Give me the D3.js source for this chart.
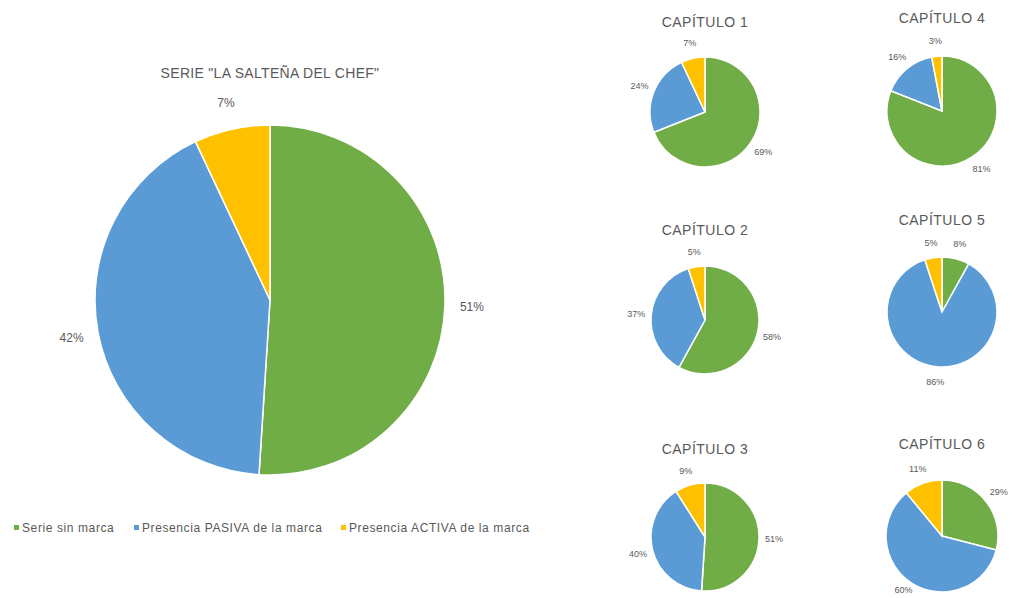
<!DOCTYPE html>
<html><head><meta charset="utf-8">
<script src="https://cdn.jsdelivr.net/npm/d3@7/dist/d3.min.js"></script>
<style>body{margin:0;background:#fff;} text{font-family:"Liberation Sans","DejaVu Sans",sans-serif;fill:#595959;}</style>
</head><body>
<svg id="c" width="1013" height="598"></svg>
<script>
const categories = ["Serie sin marca", "Presencia PASIVA de la marca", "Presencia ACTIVA de la marca"];
const colors = ["#70AD47", "#5B9BD5", "#FFC000"];
const mainTitle = 'SERIE "LA SALTEÑA DEL CHEF"';
const mainValues = [51, 42, 7];
const chapterTitles = ["CAPÍTULO 1", "CAPÍTULO 2", "CAPÍTULO 3", "CAPÍTULO 4", "CAPÍTULO 5", "CAPÍTULO 6"];
const cap1 = [69, 24, 7];
const cap2 = [58, 37, 5];
const cap3 = [51, 40, 9];
const cap4 = [81, 16, 3];
const cap5 = [8, 86, 5];
const cap6 = [29, 60, 11];
const chapterValues = [cap1, cap2, cap3, cap4, cap5, cap6];

const svg = d3.select("#c");
const color = d3.scaleOrdinal().domain(categories).range(colors);
const pie = d3.pie().sort(null).value(d => d.v);

function drawPie(cx, cy, r, values, title, titleY, fs, ls, labelR, labelFs) {
  const g = svg.append("g").attr("transform", `translate(${cx},${cy})`);
  const data = values.map((v, i) => ({ cat: categories[i], v }));
  const arcs = pie(data);
  const arc = d3.arc().innerRadius(0).outerRadius(r);
  g.selectAll("path").data(arcs).join("path")
    .attr("d", arc).attr("fill", d => color(d.data.cat))
    .attr("stroke", "#fff").attr("stroke-width", 1.5);
  const la = d3.arc().innerRadius(labelR).outerRadius(labelR);
  g.selectAll("text.l").data(arcs).join("text").attr("class", "l")
    .attr("transform", d => {
      const [x, y] = la.centroid(d);
      return `translate(${x},${Math.min(y, 590 - cy)})`;
    })
    .attr("text-anchor", "middle").attr("dy", "0.35em")
    .attr("font-size", labelFs).text(d => d.data.v + "%");
  svg.append("text").attr("x", cx).attr("y", titleY).attr("text-anchor", "middle")
    .attr("font-size", fs).attr("letter-spacing", ls).text(title);
}

drawPie(270, 300, 175, mainValues, mainTitle, 78, 14, 0.3, 202, 12);

const pos = [
  [705, 112, 55, 27], [705, 320, 54, 235], [705, 537, 54, 454],
  [942, 111, 55, 23], [942, 312, 55, 225], [942, 536, 56, 449]
];
chapterValues.forEach((vals, i) => {
  const [x, y, r, ty] = pos[i];
  drawPie(x, y, r, vals, chapterTitles[i], ty, 14, 0.5, r * 1.28, 9);
});

// legend
const lx = [14, 134, 341];
const lg = svg.append("g");
categories.forEach((c, i) => {
  lg.append("rect").attr("x", lx[i]).attr("y", 525).attr("width", 5).attr("height", 5).attr("fill", colors[i]);
  lg.append("text").attr("x", lx[i] + 8).attr("y", 531.5).attr("font-size", 12).attr("letter-spacing", 0.6).text(c);
});
</script>
</body></html>
